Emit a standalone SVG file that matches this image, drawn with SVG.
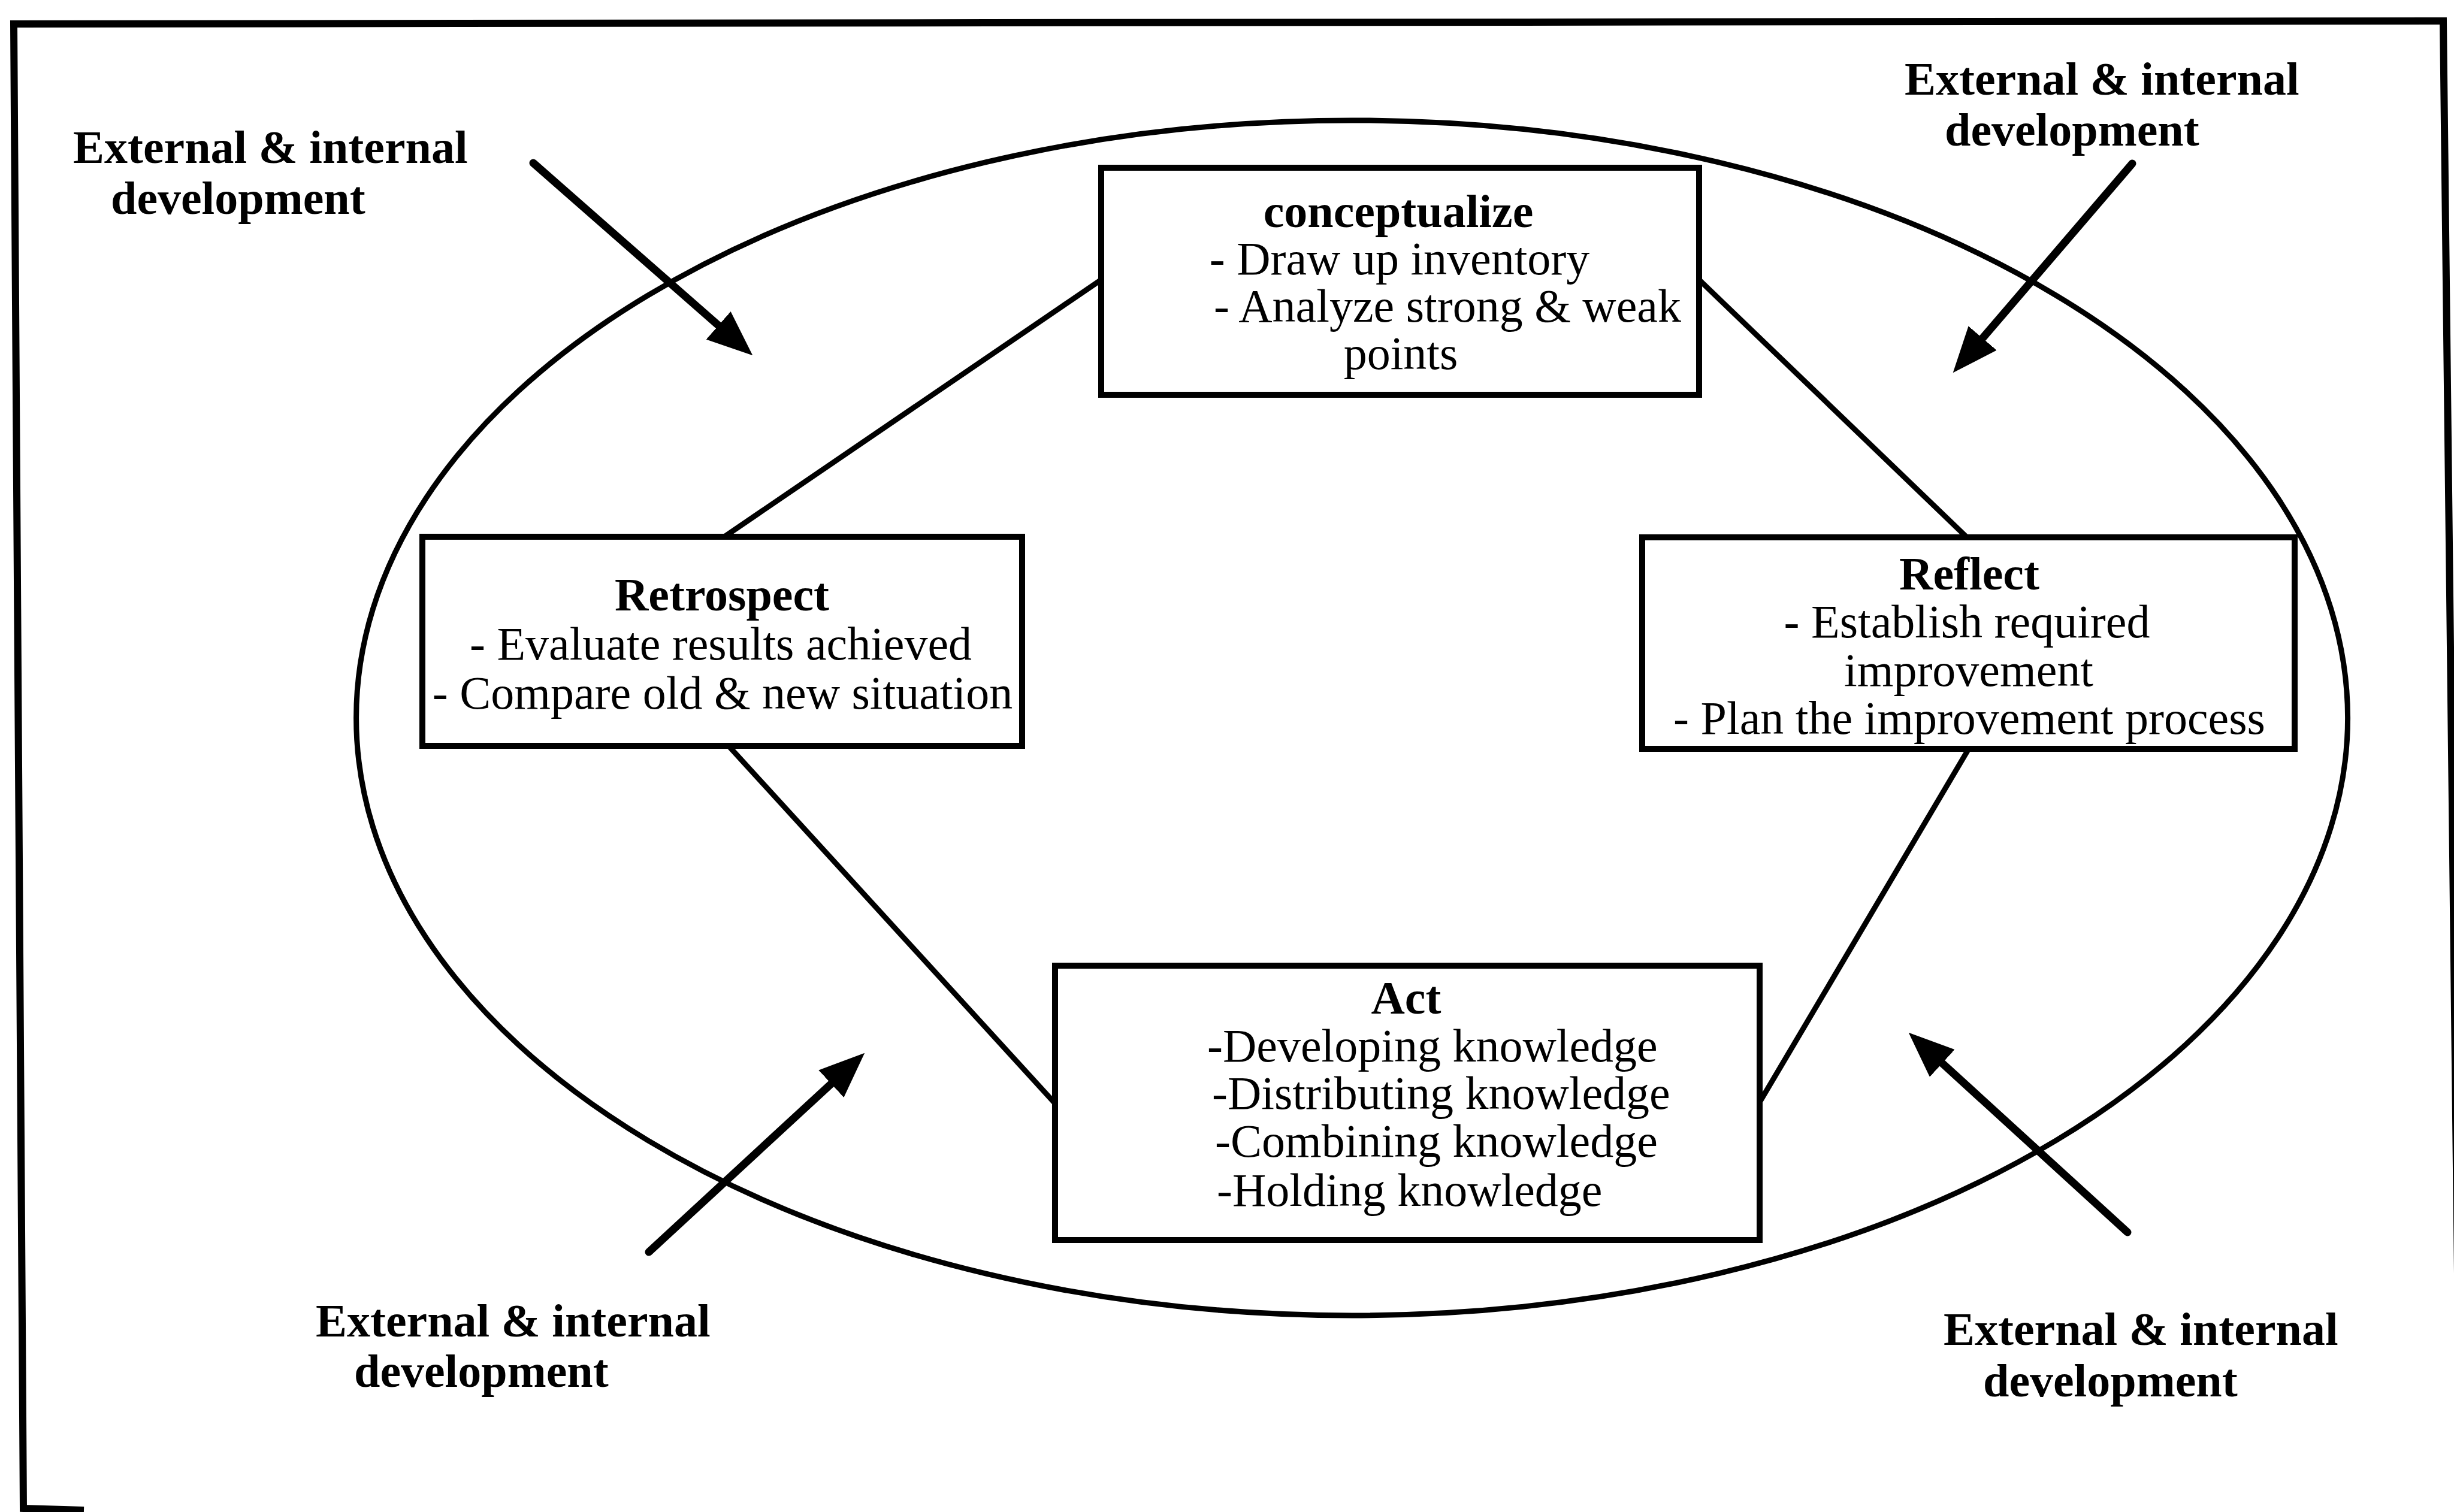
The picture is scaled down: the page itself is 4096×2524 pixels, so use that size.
<svg xmlns="http://www.w3.org/2000/svg" width="4096" height="2524" viewBox="0 0 4096 2524">
  <style>
    .frame { fill: none; stroke: #000; stroke-width: 12; stroke-linejoin: miter; }
    .ring { fill: none; stroke: #000; stroke-width: 9; }
    .box rect { fill: #fff; stroke: #000; stroke-width: 10; }
    .link { fill: none; stroke: #000; stroke-width: 9; }
    .push { fill: none; stroke: #000; stroke-width: 13; stroke-linecap: round; marker-end: url(#head); }
    text { font-family: "Liberation Serif", "Times New Roman", serif; font-size: 78px; fill: #000; }
    .t { font-weight: bold; }
    .c { text-anchor: middle; }
    .lbl { font-weight: bold; }
  </style>
  <defs>
    <marker id="head" markerUnits="userSpaceOnUse" markerWidth="76" markerHeight="62" viewBox="0 0 76 62" refX="1" refY="31" orient="auto">
      <path d="M0,0 L76,31 L0,62 Z" fill="#000"/>
    </marker>
  </defs>

  <rect x="0" y="0" width="4096" height="2524" fill="#fff"/>

  <!-- outer frame -->
  <path class="frame" d="M140,2521 L39,2518 L23,40 L4078,35 L4104,2300"/>

  <!-- cycle ring -->
  <ellipse class="ring" cx="2256.6" cy="1198.4" rx="1662" ry="997.5"/>

  <!-- connectors between the four phases and the inward arrows -->
  <g id="connectors">
    <line class="link" x1="1838" y1="467" x2="1209" y2="896"/>
    <line class="link" x1="2836" y1="467" x2="3283" y2="897"/>
    <line class="link" x1="1216" y1="1245" x2="1761" y2="1842"/>
    <line class="link" x1="3286" y1="1250" x2="2937" y2="1840"/>

    <line class="push" x1="890" y1="272" x2="1199.9" y2="543.9"/>
    <line class="push" x1="3559" y1="273" x2="3308.5" y2="565.3"/>
    <line class="push" x1="1083" y1="2090" x2="1388.1" y2="1808.5"/>
    <line class="push" x1="3551" y1="2057" x2="3241.1" y2="1774.2"/>
  </g>

  <g id="conceptualize" class="box">
    <rect x="1838" y="280" width="998" height="379"/>
    <text class="t c" x="2334" y="379">conceptualize</text>
    <text class="c" x="2336" y="458">- Draw up inventory</text>
    <text class="c" x="2416" y="537">- Analyze strong &amp; weak</text>
    <text class="c" x="2338" y="616">points</text>
  </g>

  <g id="retrospect" class="box">
    <rect x="705" y="896" width="1001" height="349"/>
    <text class="t c" x="1205" y="1019">Retrospect</text>
    <text class="c" x="1203" y="1101">- Evaluate results achieved</text>
    <text class="c" x="1206" y="1183">- Compare old &amp; new situation</text>
  </g>

  <g id="reflect" class="box">
    <rect x="2741" y="897" width="1089" height="353"/>
    <text class="t c" x="3287" y="984">Reflect</text>
    <text class="c" x="3283" y="1064">- Establish required</text>
    <text class="c" x="3286" y="1145">improvement</text>
    <text class="c" x="3287" y="1225">- Plan the improvement process</text>
  </g>

  <g id="act" class="box">
    <rect x="1761" y="1612" width="1176" height="458"/>
    <text class="t c" x="2347" y="1692">Act</text>
    <text x="2015" y="1772">-Developing knowledge</text>
    <text x="2023" y="1851">-Distributing knowledge</text>
    <text x="2028" y="1931">-Combining knowledge</text>
    <text x="2031" y="2013">-Holding knowledge</text>
  </g>

  <g id="label-top-left">
    <text class="lbl" x="122" y="272">External &amp; internal</text>
    <text class="lbl" x="185" y="357">development</text>
  </g>
  <g id="label-top-right">
    <text class="lbl" x="3179" y="158">External &amp; internal</text>
    <text class="lbl" x="3246" y="243">development</text>
  </g>
  <g id="label-bottom-left">
    <text class="lbl" x="527" y="2231">External &amp; internal</text>
    <text class="lbl" x="591" y="2315">development</text>
  </g>
  <g id="label-bottom-right">
    <text class="lbl" x="3244" y="2245">External &amp; internal</text>
    <text class="lbl" x="3310" y="2331">development</text>
  </g>
</svg>
